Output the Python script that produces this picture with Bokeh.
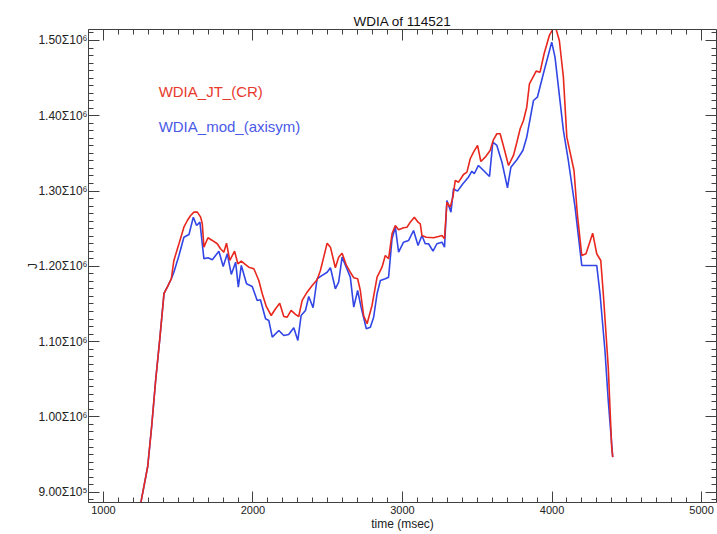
import math
from bokeh.plotting import figure
from bokeh.models import Range1d, FixedTicker, LinearAxis, Label, ColumnDataSource
from bokeh.embed import file_html
from bokeh.resources import INLINE

# ---- data (time in msec, WDIA in units of 1e6 J) ----
t_jt = [1249,1296,1323,1349,1378,1405,1427,1454,1471,1505,
        1538,1561,1583,1605,1628,1650,1661,1672,1699,1728,
        1761,1783,1805,1823,1845,1877,1899,1922,1944,1972,
        2006,2039,2062,2089,2122,2151,2179,2206,2229,2255,
        2284,2306,2329,2362,2396,2429,2451,2473,2496,2518,
        2551,2573,2596,2625,2651,2674,2700,2718,2740,2763,
        2796,2830,2863,2885,2907,2930,2952,2974,3007,3030,
        3052,3079,3104,3119,3130,3159,3208,3241,3264,3281,
        3297,3319,3337,3353,3375,3408,3431,3453,3475,3502,
        3524,3553,3586,3608,3631,3653,3680,3709,3742,3765,
        3787,3809,3831,3849,3894,3920,3947,3982,4020,4049,
        4076,4099,4147,4169,4199,4227,4272,4299,4326,4343,
        4361,4376,4399,4406]
wdia_jt_mj = [0.885,0.9341,0.9886,1.0484,1.1059,1.1640,1.1723,1.1835,1.2078,1.2300,
              1.2520,1.2609,1.2676,1.2720,1.2720,1.2653,1.2565,1.2255,1.2379,1.2344,
              1.2300,1.2233,1.2188,1.2308,1.2078,1.2201,1.2034,1.2069,1.2034,1.1989,
              1.1968,1.1812,1.1636,1.1467,1.1347,1.1436,1.1511,1.1334,1.1325,1.1414,
              1.1361,1.1334,1.1547,1.1657,1.1746,1.1822,1.1945,1.2122,1.2308,1.2255,
              1.1981,1.2122,1.2175,1.2012,1.1922,1.1848,1.1835,1.1679,1.1347,1.1237,
              1.1480,1.1856,1.1989,1.2144,1.2100,1.2433,1.2543,1.2486,1.2512,1.2520,
              1.2587,1.2653,1.2587,1.2565,1.2410,1.2387,1.2379,1.2397,1.2410,1.2366,
              1.2852,1.2786,1.2919,1.3141,1.3118,1.3220,1.3251,1.3429,1.3517,1.3606,
              1.3393,1.3450,1.3539,1.3681,1.3761,1.3761,1.3562,1.3340,1.3473,1.3649,
              1.3827,1.3938,1.4114,1.4425,1.4593,1.4579,1.4824,1.5067,1.5200,1.5000,
              1.4513,1.3716,1.3273,1.2698,1.2144,1.2167,1.2441,1.2167,1.2078,1.1636,
              1.1104,1.0661,0.9598,0.9465]

t_mod = [1249,1296,1323,1349,1378,1405,1427,1454,1471,1505,
         1538,1572,1601,1623,1645,1672,1699,1728,1772,1801,
         1828,1855,1884,1902,1922,1957,1995,2028,2050,2084,
         2106,2129,2173,2206,2239,2273,2300,2322,2351,2373,
         2402,2429,2463,2496,2518,2551,2573,2596,2625,2651,
         2674,2700,2723,2758,2785,2807,2830,2852,2885,2907,
         2930,2952,2974,3007,3041,3074,3104,3130,3152,3174,
         3204,3230,3264,3281,3297,3324,3341,3368,3404,3441,
         3464,3480,3508,3542,3582,3604,3631,3665,3702,3725,
         3765,3805,3831,3876,3902,3942,3998,4020,4076,4109,
         4154,4199,4250,4299,4321,4354,4376,4406]
wdia_mod_mj = [0.885,0.9341,0.9886,1.0484,1.1059,1.1640,1.1723,1.1835,1.1922,1.2144,
               1.2387,1.2423,1.2653,1.2543,1.2587,1.2100,1.2114,1.2087,1.2201,1.1998,
               1.2167,1.1892,1.2055,1.1723,1.2012,1.1768,1.1733,1.1547,1.1556,1.1303,
               1.1281,1.1059,1.1148,1.1082,1.1095,1.1184,1.1015,1.1347,1.1414,1.1600,
               1.1450,1.1835,1.1879,1.1922,1.1981,1.1702,1.1790,1.2122,1.1981,1.1856,
               1.1458,1.1679,1.1458,1.1171,1.1192,1.1325,1.1636,1.1812,1.1835,1.1856,
               1.2366,1.2520,1.2188,1.2321,1.2344,1.2476,1.2277,1.2410,1.2300,1.2300,
               1.2201,1.2300,1.2321,1.2255,1.2875,1.2720,1.3030,1.2999,1.3097,1.3184,
               1.3264,1.3230,1.3340,1.3273,1.3194,1.3649,1.3606,1.3384,1.3044,1.3317,
               1.3416,1.3539,1.3716,1.4203,1.4247,1.4558,1.4978,1.4779,1.3805,1.3406,
               1.2786,1.2012,1.2012,1.2012,1.1636,1.0882,1.0218,0.9465]

x_ticks = [1000, 2000, 3000, 4000, 5000]
x_tick_labels = ["1000", "2000", "3000", "4000", "5000"]
y_ticks = [900000, 1000000, 1100000, 1200000, 1300000, 1400000, 1500000]
y_tick_labels = ["9.00\u03a310\u2075", "1.00\u03a310\u2076", "1.10\u03a310\u2076",
                 "1.20\u03a310\u2076", "1.30\u03a310\u2076", "1.40\u03a310\u2076",
                 "1.50\u03a310\u2076"]
series_names = ["WDIA_JT_(CR)", "WDIA_mod_(axisym)"]
title_text = "WDIA of 114521"
x_title = "time (msec)"
y_title = "J"

FONT = "Liberation Sans"
RED = "#e8281e"
BLUE = "#3246e6"
AX = "#404040"

x_lo, x_hi = 900, 5100
y_lo, y_hi = 886300, 1514600

p = figure(width=717, height=534, output_backend="svg", toolbar_location=None,
           x_range=Range1d(x_lo, x_hi), y_range=Range1d(y_lo, y_hi),
           min_border_left=88, min_border_right=1, min_border_top=29, min_border_bottom=32)
p.background_fill_color = "white"
p.border_fill_color = "white"
p.outline_line_color = None
p.xgrid.visible = False
p.ygrid.visible = False

p.title.text = title_text
p.title.align = "center"
p.title.text_font = FONT
p.title.text_font_size = "13.5px"
p.title.text_font_style = "normal"
p.title.text_color = "#111111"
p.title.standoff = 2

x_minor = [x_lo + 100 * i for i in range(0, int((x_hi - x_lo) / 100) + 1)]
y_minor = [880000 + 10000 * i for i in range(0, 65)]

def style_axis(ax, ticks, minor, labels=None):
    ax.ticker = FixedTicker(ticks=ticks, minor_ticks=minor)
    ax.axis_line_color = AX
    ax.axis_line_width = 1
    ax.major_tick_line_color = AX
    ax.minor_tick_line_color = AX
    ax.major_tick_in = 11
    ax.major_tick_out = 0
    ax.minor_tick_in = 5
    ax.minor_tick_out = 0
    if labels is not None:
        ax.major_label_overrides = {t: l for t, l in zip(ticks, labels)}
        ax.major_label_text_font = FONT
        ax.major_label_text_color = "#222222"
        ax.axis_label_text_font = FONT
        ax.axis_label_text_font_size = "12px"
        ax.axis_label_text_font_style = "normal"
        ax.axis_label_text_color = "#222222"
    else:
        ax.major_label_overrides = {t: "" for t in ticks}
        ax.major_label_text_font_size = "1px"
        ax.major_label_text_color = None
        ax.major_label_standoff = 0

xa = p.xaxis[0]
style_axis(xa, x_ticks, x_minor, x_tick_labels)
xa.major_label_text_font_size = "11px"
xa.major_label_standoff = 3
xa.axis_label = x_title
xa.axis_label_standoff = 0

ya = p.yaxis[0]
style_axis(ya, y_ticks, y_minor, y_tick_labels)
ya.major_label_text_font_size = "12px"
ya.major_label_standoff = 1
ya.axis_label = y_title
ya.axis_label_standoff = -5

top_ax = LinearAxis()
style_axis(top_ax, x_ticks, x_minor)
p.add_layout(top_ax, "above")
right_ax = LinearAxis()
style_axis(right_ax, y_ticks, y_minor)
p.add_layout(right_ax, "right")

src_jt = ColumnDataSource(dict(t=t_jt, w=[v * 1e6 for v in wdia_jt_mj]))
src_mod = ColumnDataSource(dict(t=t_mod, w=[v * 1e6 for v in wdia_mod_mj]))
p.line("t", "w", source=src_mod, line_color=BLUE, line_width=1.6)
p.line("t", "w", source=src_jt, line_color=RED, line_width=1.6)

# in-plot legend texts (data units)
p.add_layout(Label(x=1369, y=1431600, text=series_names[0], text_font=FONT, text_font_size="15px",
                   text_align="left", text_baseline="middle", text_color="#e83a2c"))
p.add_layout(Label(x=1369, y=1385100, text=series_names[1], text_font=FONT, text_font_size="15px",
                   text_align="left", text_baseline="middle", text_color="#4a5ae8"))

open("out.html", "w").write(file_html(p, INLINE))
